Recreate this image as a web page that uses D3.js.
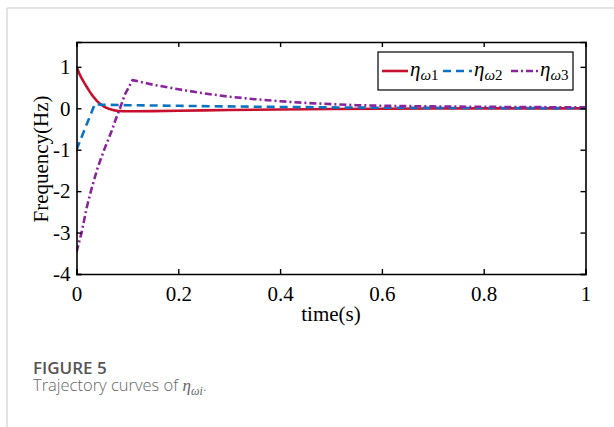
<!DOCTYPE html>
<html>
<head>
<meta charset="utf-8">
<script src="https://cdn.jsdelivr.net/npm/d3@7"></script>
<style>
  html, body { margin: 0; padding: 0; background: #fff; }
  svg { display: block; }
</style>
</head>
<body>
<svg id="chart" width="614" height="427"></svg>
<script>
// ---- data ----
const time1 = [0, 0.005, 0.01, 0.015, 0.02, 0.025, 0.03, 0.035, 0.04, 0.045, 0.05, 0.055, 0.06, 0.065, 0.07, 0.075, 0.08, 0.09, 0.1, 0.12, 0.15, 0.2, 0.25, 0.3, 0.4, 0.5, 0.6, 0.7, 0.8, 0.9, 1.0];
const eta1  = [1.0, 0.85, 0.73, 0.62, 0.52, 0.42, 0.33, 0.25, 0.18, 0.12, 0.075, 0.035, 0.005, -0.02, -0.037, -0.05, -0.06, -0.068, -0.072, -0.072, -0.068, -0.06, -0.05, -0.042, -0.028, -0.018, -0.01, -0.006, -0.003, -0.002, -0.001];

const time2 = [0, 0.036, 0.05, 0.1, 0.15, 0.2, 0.3, 0.4, 0.5, 0.6, 0.7, 0.8, 0.9, 1.0];
const eta2  = [-1.0, 0.1, 0.085, 0.075, 0.068, 0.06, 0.045, 0.032, 0.022, 0.014, 0.009, 0.006, 0.004, 0.002];

const time3 = [0, 0.01, 0.02, 0.03, 0.042, 0.055, 0.069, 0.076, 0.086, 0.095, 0.11, 0.15, 0.2, 0.25, 0.3, 0.35, 0.4, 0.45, 0.5, 0.55, 0.6, 0.7, 0.8, 0.9, 1.0];
const eta3  = [-3.47, -3.0, -2.4, -1.92, -1.42, -0.98, -0.55, -0.3, 0.02, 0.33, 0.68, 0.57, 0.46, 0.36, 0.28, 0.22, 0.17, 0.13, 0.1, 0.075, 0.06, 0.045, 0.035, 0.028, 0.022];

const xTicks = [0, 0.2, 0.4, 0.6, 0.8, 1];
const yTicks = [-4, -3, -2, -1, 0, 1];
const seriesNames = ["1", "2", "3"];
const seriesColors = ["#C8102E", "#0A74C2", "#8A249C"];
const seriesDash = [null, "8,5", "7,3,2,3"];

// ---- layout ----
const svg = d3.select("#chart");
const L = 76.5, R = 585.5, T = 42, B = 274;
const x = d3.scaleLinear().domain([0, 1]).range([L, R]);
const y = d3.scaleLinear().domain([-4, 1.6]).range([B, T]);
const serif = "'Liberation Serif', 'Times New Roman', serif";

// card border
svg.append("line").attr("x1", 7).attr("y1", 8).attr("x2", 614).attr("y2", 8)
  .attr("stroke", "#c8c8c8").attr("stroke-width", 1);
svg.append("line").attr("x1", 7).attr("y1", 8).attr("x2", 7).attr("y2", 427)
  .attr("stroke", "#c8c8c8").attr("stroke-width", 1);

// clip
svg.append("clipPath").attr("id", "clip").append("rect")
  .attr("x", L).attr("y", T).attr("width", R - L).attr("height", B - T);

// series
const series = [
  { t: time1, v: eta1 },
  { t: time2, v: eta2 },
  { t: time3, v: eta3 }
];
const line = d3.line().x(d => x(d[0])).y(d => y(d[1]));
const g = svg.append("g").attr("clip-path", "url(#clip)");
series.forEach((s, i) => {
  const pts = s.t.map((t, k) => [t, s.v[k]]);
  g.append("path").datum(pts)
    .attr("d", line)
    .attr("fill", "none")
    .attr("stroke", seriesColors[i])
    .attr("stroke-width", 2.6)
    .attr("stroke-dasharray", seriesDash[i])
    .attr("stroke-linejoin", "round");
});

// axes (ticks inward on all sides)
const tickLen = 5;
const axB = d3.axisBottom(x).tickValues(xTicks).tickSize(-tickLen).tickPadding(12)
  .tickFormat(d => d3.format("")(d));
const axT = d3.axisTop(x).tickValues(xTicks).tickSize(-tickLen).tickFormat("");
const axL = d3.axisLeft(y).tickValues(yTicks).tickSize(-tickLen).tickPadding(6)
  .tickFormat(d => d < 0 ? "-" + Math.abs(d) : String(d));
const axR = d3.axisRight(y).tickValues(yTicks).tickSize(-tickLen).tickFormat("");

function style(sel) {
  sel.selectAll(".domain").attr("stroke", "#000").attr("stroke-width", 1.6);
  sel.selectAll(".tick line").attr("stroke", "#000").attr("stroke-width", 1.4);
  sel.selectAll("text").attr("font-family", serif).attr("font-size", 21).attr("fill", "#000");
}
svg.append("g").attr("transform", `translate(0,${B})`).call(axB).call(style);
svg.append("g").attr("transform", `translate(0,${T})`).call(axT).call(style);
svg.append("g").attr("transform", `translate(${L},0)`).call(axL).call(style);
svg.append("g").attr("transform", `translate(${R},0)`).call(axR).call(style);

// axis labels
svg.append("text").attr("x", (L + R) / 2).attr("y", 321)
  .attr("text-anchor", "middle").attr("font-family", serif).attr("font-size", 21)
  .text("time(s)");
svg.append("text").attr("transform", `translate(48,${(T + B) / 2 + 1}) rotate(-90)`)
  .attr("text-anchor", "middle").attr("font-family", serif).attr("font-size", 21)
  .text("Frequency(Hz)");

// legend
const lg = svg.append("g");
lg.append("rect").attr("x", 378).attr("y", 52).attr("width", 195).attr("height", 38)
  .attr("fill", "#fff").attr("stroke", "#000").attr("stroke-width", 1.2);
const legX = [382, 443, 511];
const legLen = [26, 29, 27];
seriesNames.forEach((n, i) => {
  lg.append("line").attr("x1", legX[i]).attr("x2", legX[i] + legLen[i])
    .attr("y1", 71).attr("y2", 71)
    .attr("stroke", seriesColors[i]).attr("stroke-width", 2.6)
    .attr("stroke-dasharray", seriesDash[i]);
  const tx = lg.append("text").attr("x", legX[i] + legLen[i] + 2).attr("y", 76)
    .attr("font-family", serif).attr("font-size", 21);
  tx.append("tspan").attr("font-style", "italic").text("η");
  tx.append("tspan").attr("font-style", "italic").attr("font-size", 15).attr("dy", 4).text("ω");
  tx.append("tspan").attr("font-size", 15).text(n);
});

// caption
const sans = "'Open Sans', 'Noto Sans', sans-serif";
svg.append("text").attr("x", 33).attr("y", 373.5)
  .attr("font-family", sans).attr("font-size", 17).attr("font-weight", 600)
  .attr("fill", "#555").text("FIGURE 5");
const cap = svg.append("text").attr("x", 33).attr("y", 391)
  .attr("font-family", sans).attr("font-size", 16.5).attr("font-weight", 300)
  .attr("fill", "#666");
cap.append("tspan").text("Trajectory curves of ");
cap.append("tspan").attr("font-family", serif).attr("font-style", "italic").attr("font-size", 17).text("η");
cap.append("tspan").attr("font-family", serif).attr("font-style", "italic").attr("font-size", 12).attr("dy", 4).text("ωi");
cap.append("tspan").attr("dy", -4).text(".");
</script>
</body>
</html>
